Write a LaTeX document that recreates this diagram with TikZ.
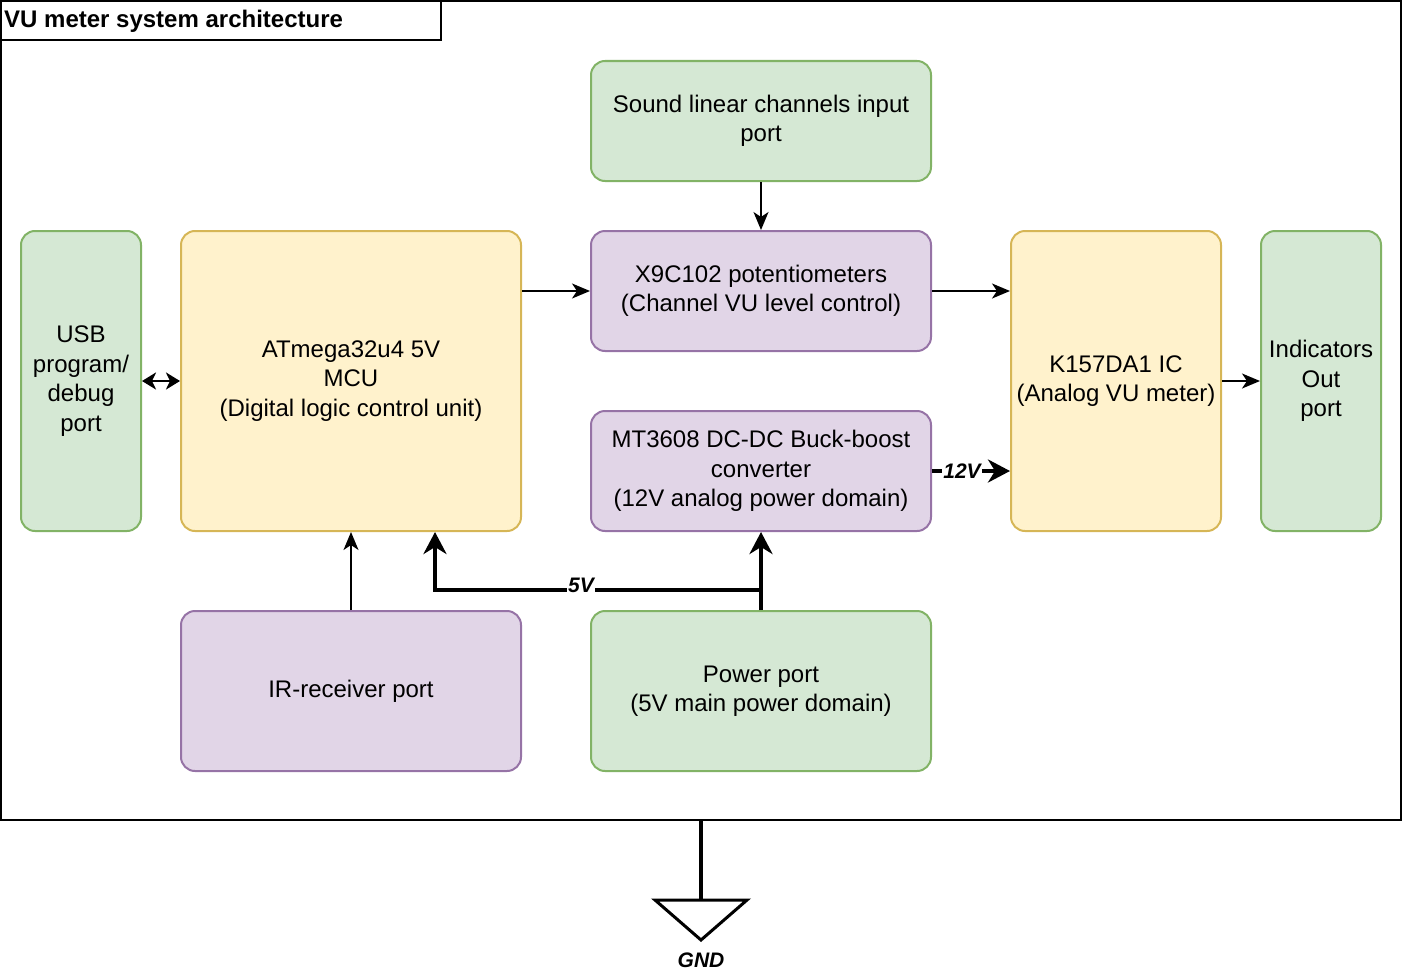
\documentclass[tikz,border=0pt]{standalone}
\usepackage{fontspec}
\setmainfont{Liberation Sans}
\usetikzlibrary{arrows.meta}
\definecolor{grfill}{HTML}{D5E8D4}
\definecolor{grline}{HTML}{82B366}
\definecolor{yefill}{HTML}{FFF2CC}
\definecolor{yeline}{HTML}{D6B656}
\definecolor{pufill}{HTML}{E1D5E7}
\definecolor{puline}{HTML}{9673A6}
\begin{document}
\begin{tikzpicture}[x=1pt, y=-1pt,
  block/.style={rounded corners=14pt, line width=2pt, inner sep=0pt, align=center,
    font=\fontsize{24}{29.5}\selectfont},
  green/.style={block, fill=grfill, draw=grline},
  yellow/.style={block, fill=yefill, draw=yeline},
  purple/.style={block, fill=pufill, draw=puline},
  sig/.style={line width=2pt, -{Stealth[length=18pt, width=15pt, inset=5pt]}},
  pwr/.style={line width=4pt, -{Stealth[length=22pt, width=23pt, inset=7pt]}},
  elabel/.style={fill=white, inner sep=1pt, font=\fontsize{21}{24}\selectfont\bfseries\itshape}]

\useasboundingbox (0,0) rectangle (1404,974);

\node[draw, line width=2pt, minimum width=1400pt, minimum height=819pt, inner sep=0pt] (frame) at (701,410.5) {};
\node[draw, line width=2pt, minimum width=440pt, minimum height=39pt, inner sep=0pt] (titlebox) at (221,20.5) {};
\node[anchor=west, inner sep=0pt, font=\fontsize{24}{28}\selectfont\bfseries] (title) at (4,21) {VU meter system architecture};

\node[green, minimum width=340pt, minimum height=120pt] (sound) at (761,121) {Sound linear channels input\\port};
\node[green, minimum width=120pt, minimum height=300pt] (usb) at (81,381) {USB\\program/\\debug\\port};
\node[yellow, minimum width=340pt, minimum height=300pt] (mcu) at (351,381) {ATmega32u4 5V\\MCU\\(Digital logic control unit)};
\node[purple, minimum width=340pt, minimum height=120pt] (xpot) at (761,291) {X9C102 potentiometers\\(Channel VU level control)};
\node[purple, minimum width=340pt, minimum height=120pt] (conv) at (761,471) {MT3608 DC-DC Buck-boost\\converter\\(12V analog power domain)};
\node[yellow, minimum width=210pt, minimum height=300pt] (vuic) at (1116,381) {K157DA1 IC\\(Analog VU meter)};
\node[green, minimum width=120pt, minimum height=300pt] (ind) at (1321,381) {Indicators\\Out\\port};
\node[purple, minimum width=340pt, minimum height=160pt] (ir) at (351,691) {IR-receiver port};
\node[green, minimum width=340pt, minimum height=160pt] (power) at (761,691) {Power port\\(5V main power domain)};

\draw[sig] (sound) -- (xpot);
\draw[sig] (mcu.east |- xpot) -- (xpot);
\draw[sig] (xpot) -- (xpot -| vuic.west);
\draw[sig] (vuic.east |- ind) -- (ind);
\draw[sig] (ir) -- (mcu);
\draw[line width=2.5pt, {Stealth[length=14pt, width=17pt, inset=4pt]}-{Stealth[length=14pt, width=17pt, inset=4pt]}] (usb) -- (mcu);

\draw[pwr] (power) -- (conv);
\draw[pwr] (power.north) -- ++(0,-20) coordinate (tap) -| ([xshift=84pt]mcu.south);
\node[elabel] (v5) at (581,585) {5V};
\draw[pwr] (conv) -- (conv -| vuic.west);
\node[elabel] (v12) at (962,471) {12V};

\coordinate (gnd) at (701,900);
\draw[line width=4pt] (frame.south) -- (gnd);
\draw[line width=3pt, line join=miter] (655,900) -- (747,900) -- (701,940) -- cycle;
\node[font=\fontsize{21}{24}\selectfont\bfseries\itshape] (gndlabel) at (701,960) {GND};

\end{tikzpicture}
\end{document}
